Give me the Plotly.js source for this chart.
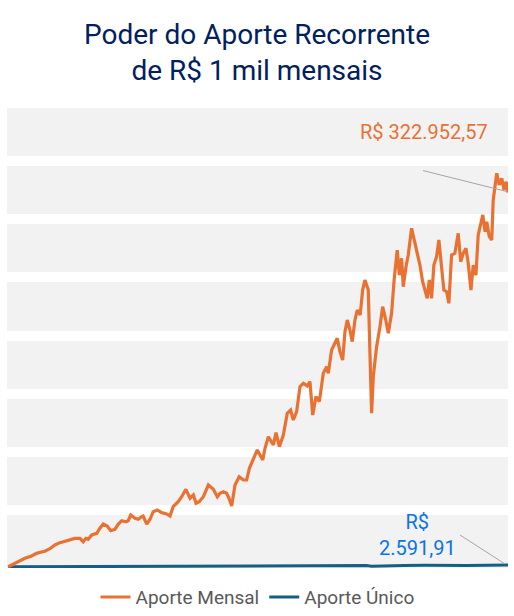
<!DOCTYPE html>
<html>
<head>
<meta charset="utf-8">
<script src="https://cdn.plot.ly/plotly-3.0.1.min.js"></script>
<style>html,body{margin:0;padding:0;background:#fff;}#chart{width:514px;height:616px;}</style>
</head>
<body>
<div id="chart"></div>
<script>
// Months since first contribution
const mesesMensal = [0,2.4,5.6,8.0,11.2,13.6,16.0,17.6,20.0,22.4,24.8,27.2,29.6,32.0,34.4,36.0,37.3,38.4,40.1,42.5,44.0,45.6,47.5,49.2,51.2,52.8,54.5,56.5,57.6,58.8,60.9,62.4,64.1,64.8,66.5,68.1,69.6,71.6,73.7,76.1,77.7,79.2,81.6,83.3,85.3,87.3,88.9,90.2,91.7,93.7,96.1,98.5,100.4,101.7,103.3,104.9,106.0,107.3,108.9,110.9,112.9,114.5,115.8,117.7,119.6,120.9,122.2,123.3,124.9,127.3,128.6,130.2,132.1,134.0,135.6,136.9,138.5,140.1,141.7,143.6,144.9,146.2,147.8,149.4,151.3,152.9,153.7,155.3,156.9,158.0,159.3,160.6,161.7,162.8,164.1,165.2,166.5,167.6,169.0,170.2,171.3,172.9,173.7,174.5,175.3,176.9,178.5,179.8,181.3,182.5,184.1,185.3,186.8,187.8,188.9,189.7,191.0,192.1,193.7,194.8,196.2,197.7,199.0,200.1,201.2,202.2,203.3,204.4,205.7,206.8,208.1,209.2,210.5,211.6,212.9,214.5,216.1,217.3,218.5,219.8,220.9,222.2,223.3,224.6,225.7,226.9,227.9,229.0,229.8,231.0,232.2,232.9,233.8,234.6,235.8,237.0,238.1,239.1,240];
// Patrimônio com aporte mensal (R$)
const aporteMensal = [1100,3400,6300,8300,10300,12600,13800,14400,16600,19800,21800,23200,24700,25500,25500,22600,25500,24700,28400,29800,34200,37800,36100,32100,33300,37600,40700,39800,40700,45600,42800,41900,44100,44700,37800,41900,48400,49900,47600,46500,44700,52700,57000,61300,67700,60000,62800,55700,57000,61300,71400,67700,61300,64300,65600,64300,60000,53300,71400,78500,75700,75700,85800,92900,101500,97200,92900,103000,112900,105800,116400,104300,114400,133100,135900,127300,134500,156000,158900,156600,160300,131600,147400,143100,167500,173200,167500,187500,193300,197600,186100,178900,203300,213300,204700,194700,213300,221900,217600,239100,247700,239100,184700,133100,164600,190400,207600,224800,213300,201900,219100,247700,273500,252000,266400,242000,259200,269200,292200,283600,273500,260600,246300,237700,232000,247700,232000,260600,267800,282200,257800,239100,237700,227700,269200,270700,287900,263500,270700,275000,262100,239100,260600,252000,286500,296500,303700,289300,297900,285000,282200,316600,326600,339500,329500,335200,325200,332300,322952.57];
// Patrimônio com aporte único (R$)
const mesesUnico = [0,12,24,36,48,60,72,84,96,108,120,132,144,156,166,172,174.5,180,190,200,210,220,230,235,240];
const aporteUnico = [1000,1080,1150,1170,1250,1300,1330,1380,1400,1330,1450,1550,1700,1800,1900,2050,1600,1950,2250,2400,2200,2250,2450,2650,2591.91];

const nomes = ['Aporte Mensal', 'Aporte Único'];
const rotuloMensal = 'R$ 322.952,57';
const rotuloUnico = 'R$<br>2.591,91';
const titulo = 'Poder do Aporte Recorrente<br>de R$ 1 mil mensais';
const gradeY = [50000,100000,150000,200000,250000,300000,350000,400000];

const FONT = 'Roboto, "Open Sans", sans-serif';
const lastM = mesesMensal[mesesMensal.length-1];
const lastV = aporteMensal[aporteMensal.length-1];
const lastU = aporteUnico[aporteUnico.length-1];

const traces = [
  {x: mesesMensal, y: aporteMensal, type: 'scatter', mode: 'lines', name: nomes[0],
   line: {color: '#E97132', width: 3.2}},
  {x: mesesUnico, y: aporteUnico, type: 'scatter', mode: 'lines', name: nomes[1],
   line: {color: '#156082', width: 3}}
];
const data = [traces[1], traces[0]];

const layout = {
  width: 514, height: 616,
  margin: {l: 7, r: 6, t: 98, b: 48, pad: 0, autoexpand: false},
  paper_bgcolor: '#FFFFFF',
  plot_bgcolor: '#F2F2F2',
  font: {family: FONT, color: '#595959'},
  title: {text: titulo, font: {family: FONT, size: 28, color: '#002060'},
          x: 0.5, xanchor: 'center', y: 1 - 44/616, yanchor: 'middle', yref: 'container'},
  showlegend: true,
  legend: {orientation: 'h', x: 0.5, xanchor: 'center', y: -0.062, yanchor: 'middle',
           font: {family: FONT, size: 19, color: '#595959'}, traceorder: 'reversed',
           bgcolor: 'rgba(0,0,0,0)'},
  xaxis: {range: [-0.6, 240], showgrid: false, zeroline: false, showticklabels: false,
          ticks: '', showline: false, fixedrange: true},
  yaxis: {range: [0, 404300], tickmode: 'array', tickvals: gradeY, showgrid: true,
          gridcolor: '#FFFFFF', gridwidth: 10, zeroline: false, showticklabels: false,
          ticks: '', showline: false, fixedrange: true},
  annotations: [
    {x: lastM, y: lastV, xref: 'x', yref: 'y', text: rotuloMensal, showarrow: false,
     xshift: -84, yshift: 61, font: {family: FONT, size: 20, color: '#E97132'}},
    {x: lastM, y: lastU, xref: 'x', yref: 'y', text: rotuloUnico, showarrow: false,
     xshift: -91, yshift: 30, font: {family: FONT, size: 20, color: '#0A74E6'}}
  ],
  shapes: [
    {type: 'line', xref: 'x', yref: 'y', xsizemode: 'pixel', ysizemode: 'pixel',
     xanchor: lastM, yanchor: lastV, x0: -85, y0: 22, x1: -1, y1: 1,
     line: {color: '#A6A6A6', width: 1}, layer: 'above'},
    {type: 'line', xref: 'x', yref: 'y', xsizemode: 'pixel', ysizemode: 'pixel',
     xanchor: lastM, yanchor: lastU, x0: -48, y0: 30, x1: -3, y1: 1,
     line: {color: '#A6A6A6', width: 1}, layer: 'above'}
  ],
  hovermode: false
};

Plotly.newPlot('chart', data, layout, {displayModeBar: false, staticPlot: true});
</script>
</body>
</html>
